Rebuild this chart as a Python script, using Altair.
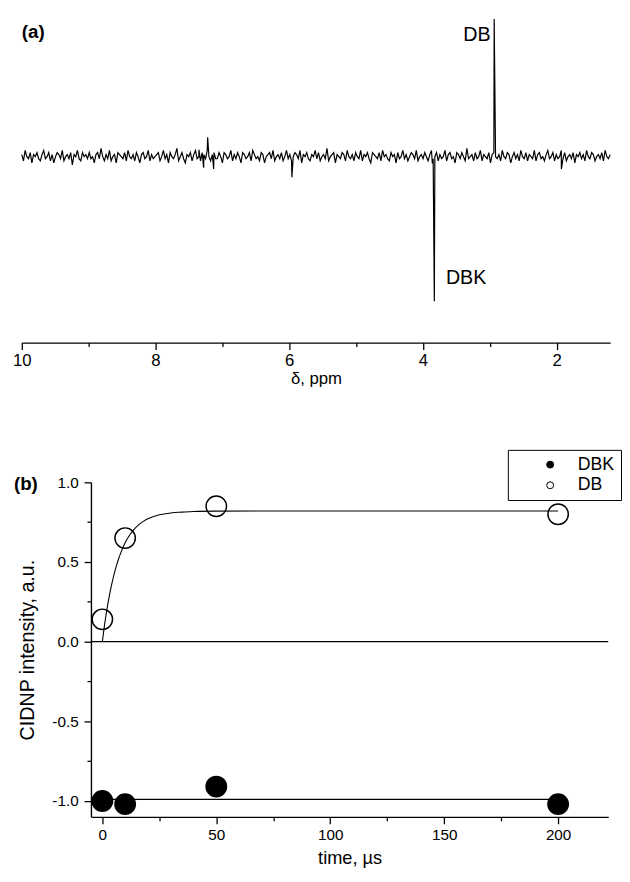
import altair as alt
import numpy as np
import pandas as pd

FONT = "Liberation Sans"

# ---------------- panel (a): 1H CIDNP spectrum ----------------
# baseline noise (units of 0.015 of DB peak height), read as an estimate
noise = [
    1, -2, 3, 0, -1, 2, -3, 1, 0, 2, -1, -2, 1, 3, -1, 0, 2, -2, 1, -3, 0, 2, 1, -1, 3, -2, 0, 1, -1, 2, -4, 1, 0, 3, -1, -2, 2, 0, 1, -1,
    2, -1, 0, -3, 1, 2, -1, 4, 0, -2, 1, -1, 3, -2, 0, 1, -3, 2, 1, 0, -1, 2, -2, 3, 0, -1, 1, -2, 2, 0, -3, 1, 2, -1, 0, 3, -2, 1, -1, 0,
    1, 2, -2, 0, 3, -1, 1, -3, 2, 0, -1, 1, 4, -2, 0, 2, -1, -3, 1, 0, 2, -2, 1, 3, -1, 0, -2, 2, 1, -1, 3, 0, -2, 1, 2, -1, -1, 2, 0, -3,
    2, 1, -1, 0, 3, -2, 1, -1, 2, 0, -3, 2, 1, -1, 0, 2, -2, 3, 1, -1, 0, -2, 2, 1, -3, 0, 1, 2, -1, 3, -2, 0, 1, -1, 2, -2, 0, 3, -1, 1,
    -2, 0, 2, 1, -1, 3, -3, 1, 0, 2, -1, -2, 1, 0, 3, -1, 2, -2, 0, 1, -1, 4, -2, 0, 1, 2, -3, 1, 0, -1, 2, 1, -2, 3, 0, -1, 1, -2, 2, 0,
    -1, 3, -2, 1, 0, 2, -1, -3, 2, 1, 0, -1, 2, -2, 3, 0, 1, -1, -2, 2, 0, 1, -3, 2, -1, 0, 3, -1, 1, -2, 0, 2, 1, -1, 3, -2, 0, 1, -1, 2,
    0, -2, 1, 3, -1, 0, 2, -2, 1, -1, 0, 3, -2, 1, 2, -1, 0, -3, 2, 1, -1, 2, 0, -2, 4, -1, 0, 1, -2, 2, -1, 0, 3, -2, 1, 0, -1, 2, -3, 1,
    2, 0, -1, 1, -2, 3, 0, -1, 2, 1, -3, 0, 2, -1, 1, -2, 3, 0, -1, 2, -2, 1, 0, -1, 3, -2, 1, 2, -1, 0, -2, 1, 3, -1, 0, 2, -2, 1, -1, 0,
    3, -1, 2, -2, 0, 1, -1, 2, -3, 1, 0, 2, -1, 1, -2, 3, 0, -1, 2, 1, -2, 0, 1, -1, 2, -2, 3, 0, -1, 1,
]
NOISE_UNIT = 0.015
peak_ppm = [7.35, 7.28, 7.22, 7.13, 5.96, 3.86, 3.83, 2.935, 1.93]
peak_val = [0.05, -0.08, 0.14, -0.09, -0.15, -0.05, -1.05, 1.0, -0.09]

PPM_MIN = 1.2
ppm_grid = np.linspace(10.0, PPM_MIN, len(noise))
spec = pd.DataFrame({
    "ppm": np.concatenate([ppm_grid, np.array(peak_ppm)]),
    "I": np.concatenate([np.array(noise) * NOISE_UNIT, np.array(peak_val)]),
}).sort_values("ppm", ascending=False).reset_index(drop=True)

xa = alt.Scale(domain=[PPM_MIN, 10], reverse=True, nice=False, zero=False)
ya = alt.Scale(domain=[-1.35, 1.029], nice=False, zero=False)

axis_common = dict(
    domainColor="black", tickColor="black", labelColor="black", titleColor="black",
    grid=False, labelFlush=False, labelFont=FONT, titleFont=FONT,
)

line_a = alt.Chart(spec).mark_line(color="black", strokeWidth=1.2).encode(
    x=alt.X("ppm:Q", scale=xa, axis=alt.Axis(
        orient="bottom", values=[10, 8, 6, 4, 2], format="d", tickSize=7, tickWidth=1.3,
        domainWidth=1.4, labelFontSize=17, labelPadding=3, title="δ, ppm",
        titleFontSize=17, titleFontWeight="normal", titlePadding=3, **axis_common)),
    y=alt.Y("I:Q", scale=ya, axis=None),
)
minor_a = alt.Chart(pd.DataFrame({"v": [9, 7, 5, 3]})).mark_point(opacity=0).encode(
    x=alt.X("v:Q", scale=xa, axis=alt.Axis(
        orient="bottom", values=[9, 7, 5, 3], tickSize=4, tickWidth=1.3, labels=False,
        domain=False, title=None, **axis_common)),
    y=alt.value(100),
)
db_lab = alt.Chart(pd.DataFrame({"ppm": [2.99], "I": [0.882], "t": ["DB"]})).mark_text(
    align="right", baseline="middle", fontSize=20, font=FONT, color="black"
).encode(x=alt.X("ppm:Q", scale=xa, axis=None), y=alt.Y("I:Q", scale=ya, axis=None), text="t:N")
dbk_lab = alt.Chart(pd.DataFrame({"ppm": [3.657], "I": [-0.879], "t": ["DBK"]})).mark_text(
    align="left", baseline="middle", fontSize=20, font=FONT, color="black"
).encode(x=alt.X("ppm:Q", scale=xa, axis=None), y=alt.Y("I:Q", scale=ya, axis=None), text="t:N")
a_lab = alt.Chart(pd.DataFrame({"t": ["(a)"]})).mark_text(
    align="left", baseline="middle", fontSize=19, fontWeight="bold", font=FONT, color="black"
).encode(x=alt.value(0), y=alt.value(17), text="t:N")

panel_a = alt.layer(line_a, minor_a, db_lab, dbk_lab, a_lab).resolve_axis(
    x="independent").properties(width=598, height=333)

# ---------------- panel (b): kinetics ----------------
t_pts = [0, 10, 50, 200]
db_vals = [0.14, 0.65, 0.85, 0.80]
dbk_vals = [-1.0, -1.02, -0.91, -1.02]
fit_t = [0, 1, 2, 3, 4, 5, 6, 7, 8, 10, 12, 14, 16, 18, 20, 25, 30, 35, 40, 50, 75, 100, 150, 200]
fit_db = [0, 0.108, 0.201, 0.283, 0.353, 0.415, 0.468, 0.514, 0.554, 0.620, 0.669, 0.706,
          0.734, 0.755, 0.771, 0.796, 0.808, 0.813, 0.817, 0.819, 0.82, 0.82, 0.82, 0.82]
fit_dbk_t = [0, 200]
fit_dbk = [-0.99, -0.99]

pts = pd.DataFrame({
    "t": t_pts + t_pts,
    "v": dbk_vals + db_vals,
    "series": ["DBK"] * 4 + ["DB"] * 4,
})
fit1 = pd.DataFrame({"t": fit_t, "v": fit_db})
fit2 = pd.DataFrame({"t": fit_dbk_t, "v": fit_dbk})

B_LEFT = 70.3   # plot (b) starts further right than plot (a)
T_MAX = 222
xb = alt.Scale(domain=[-5, T_MAX], range=[B_LEFT, B_LEFT + 227 * 2.316], nice=False, zero=False)
yb = alt.Scale(domain=[-1.1, 1.0], nice=False, zero=False)

zero_line = alt.Chart(pd.DataFrame({"z": [0], "x0": [-5], "x1": [T_MAX]})).mark_rule(
    color="black", strokeWidth=1.3).encode(
    x=alt.X("x0:Q", scale=xb, axis=None), x2="x1:Q",
    y=alt.Y("z:Q", scale=yb, axis=alt.Axis(
        orient="left", offset=-B_LEFT, values=[-1, -0.5, 0, 0.5, 1],
        labelExpr="(datum.value < 0 ? '-' : '') + format(abs(datum.value), '.1f')",
        tickSize=7, tickWidth=1.3, domainWidth=1.4, labelFontSize=15.5, labelPadding=6,
        title="CIDNP intensity, a.u.", titleFontSize=20, titleFontWeight="normal",
        titlePadding=15, **axis_common)),
)
ymin_b = alt.Chart(pd.DataFrame({"v": [-0.75, -0.25, 0.25, 0.75]})).mark_point(opacity=0).encode(
    y=alt.Y("v:Q", scale=yb, axis=alt.Axis(
        orient="left", offset=-B_LEFT, values=[-0.75, -0.25, 0.25, 0.75], tickSize=4, tickWidth=1.3,
        labels=False, domain=False, title=None, **axis_common)),
    x=alt.value(300),
)
xmaj_b = alt.Chart(fit2).mark_line(color="black", strokeWidth=1.1).encode(
    x=alt.X("t:Q", scale=xb, axis=alt.Axis(
        orient="bottom", values=[0, 50, 100, 150, 200], format="d", tickSize=7, tickWidth=1.3,
        domainWidth=1.4, labelFontSize=15.5, labelPadding=4, title="time, µs", titleFontSize=18.5,
        titleFontWeight="normal", titlePadding=6, **axis_common)),
    y=alt.Y("v:Q", scale=yb, axis=None),
)
xmin_b = alt.Chart(pd.DataFrame({"u": [25, 75, 125, 175]})).mark_point(opacity=0).encode(
    x=alt.X("u:Q", scale=xb, axis=alt.Axis(
        orient="bottom", values=[25, 75, 125, 175], tickSize=4, tickWidth=1.3,
        labels=False, domain=False, title=None, **axis_common)),
    y=alt.value(100),
)
fit_db_line = alt.Chart(fit1).mark_line(color="black", strokeWidth=1.1, interpolate="monotone").encode(
    x=alt.X("t:Q", scale=xb, axis=None),
    y=alt.Y("v:Q", scale=yb, axis=None),
)
points = alt.Chart(pts).mark_point(shape="circle", size=430, stroke="black", strokeWidth=1.5, opacity=1).encode(
    x=alt.X("t:Q", scale=xb, axis=None),
    y=alt.Y("v:Q", scale=yb, axis=None),
    fill=alt.Fill("series:N", scale=alt.Scale(domain=["DBK", "DB"], range=["black", "transparent"]),
                  legend=alt.Legend(
                      title=None, orient="none", legendX=494, legendY=442, padding=6,
                      strokeColor="black", fillColor="white", labelFontSize=18, labelFont=FONT,
                      labelColor="black", symbolSize=50, symbolStrokeColor="black",
                      symbolStrokeWidth=1, symbolType="circle", rowPadding=3, symbolOffset=28,
                      labelOffset=19, labelExpr="datum.label + '   '")),
)
b_lab = alt.Chart(pd.DataFrame({"t": ["(b)"]})).mark_text(
    align="left", baseline="middle", fontSize=19, fontWeight="bold", font=FONT, color="black"
).encode(x=alt.value(-8), y=alt.value(2), text="t:N")

panel_b = alt.layer(zero_line, ymin_b, xmaj_b, xmin_b, fit_db_line, points, b_lab).resolve_axis(
    x="independent", y="independent").properties(width=596, height=340)

chart = alt.vconcat(panel_a, panel_b, spacing=90).properties(
    padding={"left": 4, "top": 0, "right": 0, "bottom": 0}
).configure(font=FONT).configure_view(stroke=None)

chart.save("out.html", embed_options={"renderer": "svg", "actions": False})
